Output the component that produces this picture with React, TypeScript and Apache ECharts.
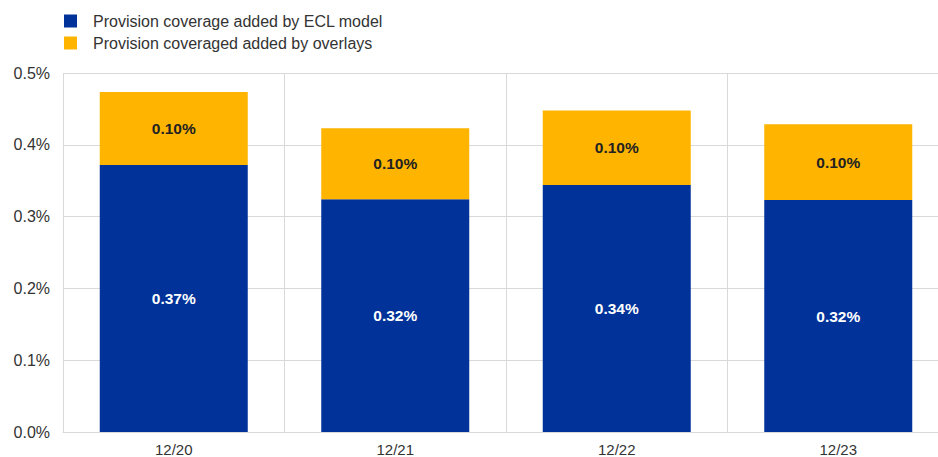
import React, { useEffect, useRef } from "react";
import * as echarts from "echarts";

const categories = ["12/20", "12/21", "12/22", "12/23"];
const eclModel = [0.372, 0.324, 0.344, 0.323];
const overlays = [0.1015, 0.099, 0.1036, 0.1055];
const eclLabels = ["0.37%", "0.32%", "0.34%", "0.32%"];
const overlayLabels = ["0.10%", "0.10%", "0.10%", "0.10%"];
const yTicks = [0, 0.1, 0.2, 0.3, 0.4, 0.5];

export default function App() {
  const ref = useRef<HTMLDivElement>(null);
  useEffect(() => {
    if (!ref.current) return;
    const chart = echarts.init(ref.current, undefined, { renderer: "svg" });
    const font = "'Liberation Sans', Arial, sans-serif";
    chart.setOption({
      animation: false,
      textStyle: { fontFamily: font },
      legend: {
        orient: "vertical",
        left: 64,
        top: 13,
        padding: 0,
        itemWidth: 13,
        itemHeight: 13,
        itemGap: 6,
        icon: "rect",
        textStyle: {
          fontFamily: font,
          fontSize: 16,
          color: "#333",
          lineHeight: 16,
          padding: [0, 0, 0, 11],
        },
        data: [
          "Provision coverage added by ECL model",
          "Provision coveraged added by overlays",
        ],
      },
      grid: { left: 63, right: 0, top: 73, bottom: 25 },
      xAxis: {
        type: "category",
        data: categories,
        axisTick: { show: false },
        axisLine: { show: true, lineStyle: { color: "#d9d9d9" } },
        splitLine: { show: true, lineStyle: { color: "#d9d9d9", width: 1 } },
        axisLabel: { color: "#333", fontSize: 15, fontFamily: font, margin: 10 },
      },
      yAxis: {
        type: "value",
        min: 0,
        max: 0.5,
        interval: 0.1,
        axisLine: { show: false },
        axisTick: { show: false },
        splitLine: { lineStyle: { color: "#d9d9d9", width: 1 } },
        axisLabel: {
          color: "#333",
          fontSize: 16,
          fontFamily: font,
          margin: 13,
          formatter: (v: number) => {
            const t = yTicks.find((x) => Math.abs(x - v) < 1e-9);
            return (t !== undefined ? t : v).toFixed(1) + "%";
          },
        },
      },
      series: [
        {
          name: "Provision coverage added by ECL model",
          type: "bar",
          stack: "total",
          barWidth: 148,
          data: eclModel,
          itemStyle: { color: "#003299" },
          label: {
            show: true,
            position: "inside",
            color: "#fff",
            fontWeight: "bold",
            fontSize: 15.5,
            fontFamily: font,
            formatter: (p: any) => eclLabels[p.dataIndex],
          },
        },
        {
          name: "Provision coveraged added by overlays",
          type: "bar",
          stack: "total",
          barWidth: 148,
          data: overlays,
          itemStyle: { color: "#FFB400" },
          label: {
            show: true,
            position: "inside",
            color: "#222",
            fontWeight: "bold",
            fontSize: 15.5,
            fontFamily: font,
            formatter: (p: any) => overlayLabels[p.dataIndex],
          },
        },
      ],
    });
    return () => chart.dispose();
  }, []);
  return (
    <div
      style={{
        position: "fixed",
        left: 0,
        top: 0,
        width: 938,
        height: 457,
        overflow: "hidden",
        background: "#fff",
      }}
    >
      <div ref={ref} style={{ width: 949, height: 457 }} />
    </div>
  );
}
